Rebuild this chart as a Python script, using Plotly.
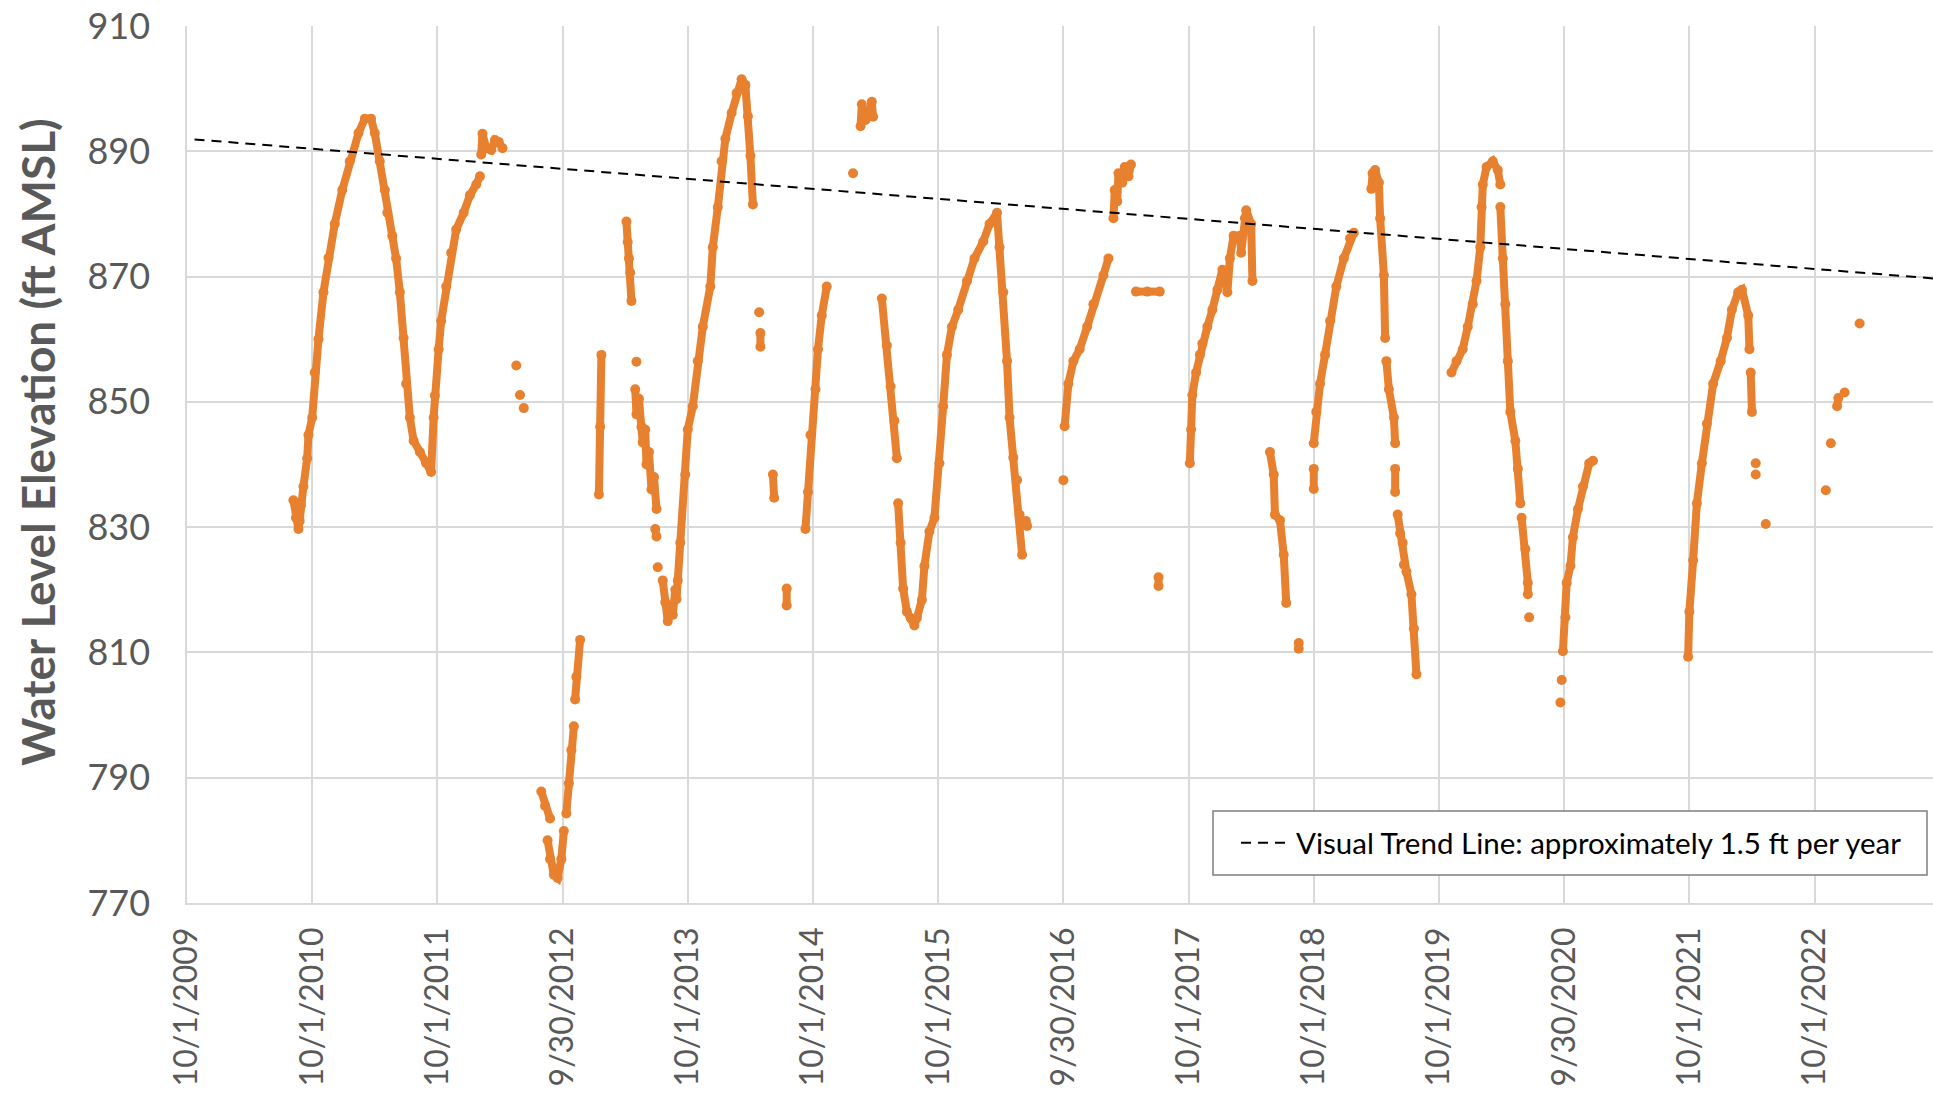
import datetime as dt
import plotly.graph_objects as go

# ---------------- data (decimal year, water level ft AMSL); None = gap ----------------
cycle_2010_t = [2010.60, 2010.62, 2010.64, 2010.65, 2010.66, 2010.68, 2010.71, 2010.72, 2010.75, 2010.77,
                2010.80, 2010.84, 2010.88, 2010.93, 2010.99, 2011.05, 2011.12, 2011.17, 2011.22, 2011.25,
                2011.29, 2011.33, 2011.35, 2011.39, 2011.42, 2011.45, 2011.48, 2011.50, 2011.53, 2011.56,
                2011.61, 2011.66, 2011.70, 2011.72, 2011.73, 2011.76, 2011.78, 2011.82, 2011.86, 2011.90,
                2011.96, 2012.01, 2012.06, 2012.09]
cycle_2010_v = [834.3, 831.5, 829.7, 831.0, 833.5, 836.5, 841.0, 844.7, 847.5, 854.7,
                860.0, 867.5, 873.0, 878.4, 883.8, 888.4, 892.9, 895.2, 895.2, 892.9,
                888.4, 883.8, 880.2, 876.5, 872.9, 867.5, 860.2, 852.9, 847.5, 843.8,
                842.0, 840.2, 838.8, 847.5, 851.0, 858.4, 862.9, 868.4, 873.8, 877.5,
                880.2, 883.0, 884.7, 886.0]

cycle_2012_t = [2012.10, 2012.11, 2012.14, 2012.18, 2012.21, 2012.24, 2012.27, None,
                2012.38, None, 2012.41, None, 2012.44, None,
                2012.58, 2012.61, 2012.65, None,
                2012.63, 2012.65, 2012.68, 2012.71, 2012.74, 2012.76, None,
                2012.78, 2012.80, 2012.82, 2012.84, None,
                2012.85, 2012.86, 2012.89]
cycle_2012_v = [889.5, 892.8, 890.5, 890.2, 891.8, 891.5, 890.5, None,
                855.8, None, 851.1, None, 849.0, None,
                787.8, 785.5, 783.5, None,
                780.0, 777.0, 774.5, 774.0, 777.0, 781.5, None,
                784.3, 789.1, 794.4, 798.2, None,
                802.5, 806.1, 812.0]

cycle_2013_t = [2013.04, 2013.05, 2013.06, None,
                2013.26, 2013.27, 2013.28, 2013.29, 2013.30, None,
                2013.34, None,
                2013.33, 2013.34, 2013.36, 2013.38, 2013.39, 2013.41, 2013.42, 2013.44, 2013.46, 2013.48, 2013.50, None,
                2013.49, 2013.50, None, 2013.51, None,
                2013.55, 2013.57, 2013.59, 2013.61, 2013.63, 2013.65, 2013.66, 2013.67, 2013.69, 2013.73,
                2013.75, 2013.79, 2013.83, 2013.87, 2013.93, 2013.95, 2013.99, 2014.02, 2014.05, 2014.10,
                2014.14, 2014.18, 2014.21, 2014.23, 2014.25, 2014.27]
cycle_2013_v = [835.2, 846.0, 857.5, None,
                878.8, 875.5, 872.9, 870.6, 866.1, None,
                856.4, None,
                852.0, 848.0, 850.5, 846.0, 843.5, 845.6, 840.0, 842.0, 836.0, 838.0, 832.9, None,
                829.7, 828.5, None, 823.6, None,
                821.5, 818.0, 815.0, 817.0, 816.0, 820.0, 818.5, 821.5, 827.5, 838.4,
                845.6, 849.3, 856.5, 862.0, 868.4, 874.7, 881.1, 888.4, 892.0, 896.1,
                899.3, 901.5, 900.6, 895.6, 889.3, 881.5]

cycle_2014_t = [2014.32, None, 2014.33, 2014.33, None, 2014.43, 2014.44, None, 2014.54, 2014.54, None,
                2014.69, 2014.71, 2014.73, 2014.77, 2014.79, 2014.82, 2014.86, None,
                2015.07, None,
                2015.13, 2015.14, 2015.17, 2015.20, 2015.22, 2015.23]
cycle_2014_v = [864.3, None, 861.0, 858.8, None, 838.4, 834.7, None, 820.2, 817.5, None,
                829.7, 835.6, 844.7, 852.0, 858.4, 863.8, 868.4, None,
                886.5, None,
                894.0, 897.5, 895.0, 896.0, 897.9, 895.5]

cycle_2015_t = [2015.30, 2015.34, 2015.37, 2015.40, 2015.42, None,
                2015.43, 2015.45, 2015.47, 2015.50, 2015.53, 2015.56, 2015.58, 2015.62, 2015.64, 2015.68,
                2015.72, 2015.76, 2015.79, 2015.82, 2015.86, 2015.91, 2015.98, 2016.04, 2016.11, 2016.16,
                2016.22, 2016.24, 2016.27, 2016.30, 2016.32, 2016.35, 2016.38, 2016.40, 2016.42, None,
                2016.45, 2016.46]
cycle_2015_v = [866.5, 859.0, 852.5, 847.0, 841.0, None,
                833.8, 827.5, 820.2, 816.5, 815.5, 814.3, 815.5, 818.4, 823.8, 829.3,
                831.5, 840.2, 849.3, 857.5, 862.0, 864.7, 869.3, 872.9, 875.6, 878.4,
                880.2, 874.7, 867.5, 856.5, 847.5, 841.1, 837.5, 832.0, 825.6, None,
                831.0, 830.2]

cycle_2016_t = [2016.75, None,
                2016.76, 2016.79, 2016.83, 2016.88, 2016.94, 2016.99, 2017.07, 2017.11, None,
                2017.15, 2017.16, 2017.18, 2017.19, 2017.22, 2017.24, 2017.27, 2017.29, None,
                2017.33, 2017.42, 2017.52, None,
                2017.51, 2017.51]
cycle_2016_v = [837.5, None,
                846.1, 852.9, 856.5, 858.4, 862.0, 865.6, 870.2, 872.9, None,
                879.3, 883.8, 882.0, 886.5, 885.0, 887.5, 886.0, 887.9, None,
                867.6, 867.6, 867.6, None,
                822.0, 820.6]

cycle_2017_t = [2017.76, 2017.77, 2017.78, 2017.81, 2017.84, 2017.86, 2017.90, 2017.94, 2017.98, 2018.02,
                2018.06, 2018.08, 2018.11, 2018.16, 2018.17, 2018.20, 2018.21, 2018.25, 2018.26, None,
                2018.40, 2018.43, 2018.44, 2018.48, 2018.51, 2018.53, None,
                2018.63, 2018.63]
cycle_2017_v = [840.2, 845.6, 851.1, 854.7, 857.5, 859.3, 862.0, 864.7, 867.9, 871.1,
                867.5, 872.9, 876.5, 876.5, 873.8, 879.3, 880.6, 878.4, 869.3, None,
                842.0, 838.4, 832.0, 831.1, 825.6, 817.9, None,
                811.5, 810.6]

cycle_2018_t = [2018.75, 2018.75, None,
                2018.75, 2018.77, 2018.80, 2018.84, 2018.88, 2018.93, 2018.99, 2019.04, 2019.07, None,
                2019.21, 2019.22, 2019.24, 2019.27, 2019.28, 2019.31, 2019.32, None,
                2019.33, 2019.35, 2019.39, 2019.40, None,
                2019.40, 2019.40, None,
                2019.42, 2019.44, 2019.46, 2019.47, 2019.49, 2019.53, 2019.55, 2019.57]
cycle_2018_v = [836.1, 839.3, None,
                843.4, 848.4, 852.9, 857.5, 862.9, 868.4, 872.9, 876.1, 877.0, None,
                884.0, 886.5, 887.0, 885.0, 879.3, 870.2, 860.2, None,
                856.5, 852.0, 847.5, 843.4, None,
                839.3, 835.6, None,
                832.0, 829.0, 827.5, 824.0, 822.9, 819.3, 813.8, 806.5]

cycle_2019_t = [2019.85, 2019.89, 2019.94, 2019.98, 2020.02, 2020.05, 2020.08, 2020.09, 2020.10, 2020.13,
                2020.18, 2020.22, 2020.24, None,
                2020.24, 2020.26, 2020.28, 2020.30, 2020.32, 2020.36, 2020.38, 2020.40, None,
                2020.41, 2020.44, 2020.46, 2020.46, None,
                2020.47]
cycle_2019_v = [854.7, 856.5, 858.4, 862.0, 865.6, 869.3, 874.7, 881.1, 884.7, 887.5,
                888.4, 887.0, 884.7, None,
                881.1, 872.9, 865.6, 856.5, 848.4, 843.8, 839.3, 833.8, None,
                831.5, 826.5, 821.1, 819.3, None,
                815.6]

cycle_2020_t = [2020.72, None, 2020.73, None,
                2020.74, 2020.76, 2020.77, 2020.80, 2020.82, 2020.86, 2020.90, 2020.95, 2020.98]
cycle_2020_v = [802.0, None, 805.6, None,
                810.2, 815.6, 821.1, 823.8, 828.4, 832.9, 836.5, 840.2, 840.6]

cycle_2021_t = [2021.74, 2021.75, 2021.78, 2021.81, 2021.85, 2021.89, 2021.94, 2022.00, 2022.05, 2022.09,
                2022.14, 2022.17, 2022.22, 2022.23, None,
                2022.24, 2022.25, None, 2022.28, None, 2022.28, None, 2022.36]
cycle_2021_v = [809.3, 816.5, 824.7, 833.8, 840.2, 846.5, 852.9, 856.5, 860.2, 864.7,
                867.5, 867.9, 863.8, 858.4, None,
                854.7, 848.4, None, 840.2, None, 838.4, None, 830.5]

cycle_2022_t = [2022.84, None, 2022.88, None, 2022.93, 2022.94, None, 2022.99, None, 2023.11]
cycle_2022_v = [835.9, None, 843.4, None, 849.3, 850.6, None, 851.5, None, 862.5]

trend_t = [2009.81, 2023.70]
trend_v = [891.9, 869.7]

tick_labels = ["10/1/2009", "10/1/2010", "10/1/2011", "9/30/2012", "10/1/2013", "10/1/2014",
               "10/1/2015", "9/30/2016", "10/1/2017", "10/1/2018", "10/1/2019", "9/30/2020",
               "10/1/2021", "10/1/2022"]
y_ticks = [770, 790, 810, 830, 850, 870, 890, 910]

# ---------------- helpers ----------------
BASE = dt.datetime(2009, 10, 1)


def to_date(y):
    if y is None:
        return None
    return BASE + dt.timedelta(days=(y - 2009.75) * 365.25)


all_t, all_v = [], []
for tt, vv in [(cycle_2010_t, cycle_2010_v), (cycle_2012_t, cycle_2012_v), (cycle_2013_t, cycle_2013_v),
               (cycle_2014_t, cycle_2014_v), (cycle_2015_t, cycle_2015_v), (cycle_2016_t, cycle_2016_v),
               (cycle_2017_t, cycle_2017_v), (cycle_2018_t, cycle_2018_v), (cycle_2019_t, cycle_2019_v),
               (cycle_2020_t, cycle_2020_v), (cycle_2021_t, cycle_2021_v), (cycle_2022_t, cycle_2022_v)]:
    all_t += [to_date(t) for t in tt] + [None]
    all_v += list(vv) + [None]

tick_vals = [BASE + dt.timedelta(days=365.25 * k) for k in range(len(tick_labels))]
x_end = BASE + dt.timedelta(days=365.25 * 13.946)

ORANGE = "#E7812F"
GRAY = "#595959"
FONT = "Lato"

# plot area in px: left 187, right 1933, top 26, bottom 903
PL, PR, PT, PB = 187, 1933, 26, 903


def px_x(px):
    return (px - PL) / (PR - PL)


def px_y(py):
    return (PB - py) / (PB - PT)


fig = go.Figure()
fig.add_trace(go.Scatter(
    x=all_t, y=all_v, mode="lines+markers",
    line=dict(color=ORANGE, width=8),
    marker=dict(color=ORANGE, size=10),
    connectgaps=False, showlegend=False, hoverinfo="x+y"))
fig.add_trace(go.Scatter(
    x=[to_date(t) for t in trend_t], y=trend_v, mode="lines",
    line=dict(color="black", width=2, dash="10px,7px"),
    name="Visual Trend Line: approximately 1.5 ft per year"))

fig.update_layout(
    width=1933, height=1095,
    margin=dict(l=PL, r=1933 - PR, t=PT, b=1095 - PB, autoexpand=False),
    paper_bgcolor="white", plot_bgcolor="white",
    font=dict(family=FONT, color=GRAY),
    legend=dict(x=px_x(1236), xanchor="left", y=px_y(843), yanchor="middle",
                bgcolor="rgba(0,0,0,0)", borderwidth=0, itemwidth=50,
                font=dict(family=FONT, size=29.5, color="black")),
    shapes=[dict(type="rect", xref="paper", yref="paper",
                 x0=px_x(1213), x1=px_x(1927), y0=px_y(875), y1=px_y(811),
                 line=dict(color="#7F7F7F", width=1.5), fillcolor="white", layer="above")],
    annotations=[dict(text="<b>Water Level Elevation (ft AMSL)</b>", textangle=-90,
                      xref="paper", yref="paper", x=px_x(37), y=px_y(442),
                      xanchor="center", yanchor="middle", showarrow=False,
                      font=dict(family=FONT, size=46, color=GRAY))],
)
fig.update_xaxes(
    type="date", range=[BASE, x_end], automargin=False,
    tickmode="array", tickvals=tick_vals, ticktext=tick_labels,
    tickangle=-90, tickfont=dict(family=FONT, size=32, color=GRAY),
    ticks="", ticklabelstandoff=10,
    showgrid=True, gridcolor="#D9D9D9", gridwidth=1.5,
    showline=True, linecolor="#D9D9D9", linewidth=1.5, zeroline=False)
fig.update_yaxes(
    range=[770, 910], tickmode="array", tickvals=y_ticks, automargin=False,
    tickfont=dict(family=FONT, size=36, color=GRAY),
    ticks="", ticklabelstandoff=28,
    showgrid=True, gridcolor="#D9D9D9", gridwidth=1.5,
    showline=True, linecolor="#D9D9D9", linewidth=1.5, zeroline=False)

fig.write_html("out.html")
